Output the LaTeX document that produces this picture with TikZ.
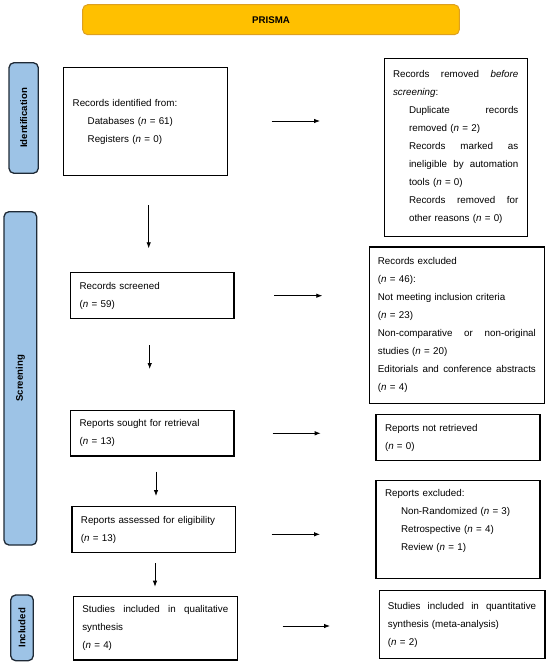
\documentclass[tikz,border=0pt]{standalone}
\usepackage{fontspec}
\setmainfont{Liberation Sans}
\usetikzlibrary{arrows.meta,positioning}

\definecolor{bannerfill}{HTML}{FFC000}
\definecolor{bannerline}{HTML}{DDA020}
\definecolor{phasefill}{HTML}{9DC3E6}
\definecolor{phaseline}{HTML}{1F2A36}

% justified line of given width
\newcommand{\spread}[2]{\makebox[#1][s]{\spaceskip=0.278em plus 1fil\relax #2}}
\newcommand{\ind}{\hspace*{16pt}}
\newcommand{\nn}{\textit{n}}

\tikzset{
  box/.style={draw, line width=1.1pt, rectangle, inner xsep=9pt, inner ysep=0pt,
    align=left, font=\fontsize{9.8}{18}\selectfont},
  phase/.style={draw=phaseline, fill=phasefill, line width=1.3pt, rounded corners=5pt,
    font=\fontsize{9.6}{11}\selectfont\bfseries},
  arr/.style={line width=0.8pt, -{Latex[length=6pt,width=4.5pt]}}
}

\begin{document}
\begin{tikzpicture}[x=1pt,y=-1pt]
  \useasboundingbox (0,0) rectangle (550,664);

  % Banner
  \draw[fill=bannerfill, draw=bannerline, line width=1pt, rounded corners=5pt]
    (82.7,4.7) rectangle (459.3,34.7);
  \node[font=\fontsize{9.7}{11}\selectfont\bfseries] (title) at (271,19.7) {PRISMA};

  % Phase bars
  \draw[phase] (9,62.7) rectangle (38.3,173.3);
  \node[phase, draw=none, fill=none, rotate=90] (idlab) at (23.6,118) {Identification};
  \draw[phase] (4,211.7) rectangle (36.7,545);
  \node[phase, draw=none, fill=none, rotate=90] (scrlab) at (20.3,378.3) {Screening};
  \draw[phase] (10.7,595) rectangle (33.3,660.7);
  \node[phase, draw=none, fill=none, rotate=90] (inclab) at (22,627.8) {Included};

  % Left column
  \node[box, text width=146pt, minimum height=108pt] (ident) at (145.7,121.7)
    {Records identified from:\\
     \hspace*{15pt}Databases (\nn{} = 61)\\
     \hspace*{15pt}Registers (\nn{} = 0)};
  \node[box, text width=145.3pt, minimum height=45.6pt] (screened) at (152.3,295.5)
    {Records screened\\(\nn{} = 59)};
  \node[box, text width=145.3pt, minimum height=45.3pt] (sought) at (152.3,433.3)
    {Reports sought for retrieval\\(\nn{} = 13)};
  \node[box, text width=145.7pt, minimum height=46pt] (assessed) at (153.8,529.7)
    {Reports assessed for eligibility\\(\nn{} = 13)};
  \node[box, text width=146pt, minimum height=63.3pt] (quali) at (155.3,628.3)
    {\spread{146pt}{Studies included in qualitative}\\synthesis\\(\nn{} = 4)};

  % Right column
  \node[box, text width=125.3pt, minimum height=178.7pt] (removed) at (455.7,147.4)
    {\spread{125.3pt}{Records removed \textit{before}}\\
     \textit{screening}:\\
     \ind\spread{109.3pt}{Duplicate records}\\
     \ind removed (\nn{} = 2)\\
     \ind\spread{109.3pt}{Records marked as}\\
     \ind\spread{109.3pt}{ineligible by automation}\\
     \ind tools (\nn{} = 0)\\
     \ind\spread{109.3pt}{Records removed for}\\
     \ind other reasons (\nn{} = 0)};
  \node[box, text width=158pt, inner xsep=8.6pt, minimum height=156.6pt] (excluded) at (456.9,325.3)
    {Records excluded\\
     (\nn{} = 46):\\
     Not meeting inclusion criteria\\
     (\nn{} = 23)\\
     \spread{158pt}{Non-comparative or non-original}\\
     studies (\nn{} = 20)\\
     \spread{158pt}{Editorials and conference abstracts}\\
     (\nn{} = 4)};
  \node[box, text width=146pt, minimum height=46.4pt] (notret) at (458,437.5)
    {Reports not retrieved\\(\nn{} = 0)};
  \node[box, text width=146pt, minimum height=98.3pt] (repexcl) at (458,529.2)
    {Reports excluded:\\
     \ind Non-Randomized (\nn{} = 3)\\
     \ind Retrospective (\nn{} = 4)\\
     \ind Review (\nn{} = 1)\\ \mbox{}};
  \node[box, text width=148.3pt, inner xsep=8.8pt, minimum height=67.6pt] (quanti) at (462,624.5)
    {\spread{148.3pt}{Studies included in quantitative}\\
     synthesis (meta-analysis)\\
     (\nn{} = 2)};

  % Arrow ends
  \coordinate (a1s) at (271.7,121);   \coordinate (a1e) at (320,121);
  \coordinate (d1s) at (148.7,205);   \coordinate (d1e) at (148.7,248.3);
  \coordinate (a2s) at (274,295.7);   \coordinate (a2e) at (322.3,295.7);
  \coordinate (d2s) at (149.7,345);   \coordinate (d2e) at (149.7,369);
  \coordinate (a3s) at (272.7,433.3); \coordinate (a3e) at (320.7,433.3);
  \coordinate (d3s) at (156,471.7);   \coordinate (d3e) at (156,496);
  \coordinate (a4s) at (271.7,534.3); \coordinate (a4e) at (320,534.3);
  \coordinate (d4s) at (155,563.3);   \coordinate (d4e) at (155,586.7);
  \coordinate (a5s) at (282.7,626);   \coordinate (a5e) at (330,626);

  % Arrows
  \draw[arr] (a1s) -- (a1e);
  \draw[arr] (d1s) -- (d1e);
  \draw[arr] (a2s) -- (a2e);
  \draw[arr] (d2s) -- (d2e);
  \draw[arr] (a3s) -- (a3e);
  \draw[arr] (d3s) -- (d3e);
  \draw[arr] (a4s) -- (a4e);
  \draw[arr] (d4s) -- (d4e);
  \draw[arr] (a5s) -- (a5e);
\end{tikzpicture}
\end{document}
